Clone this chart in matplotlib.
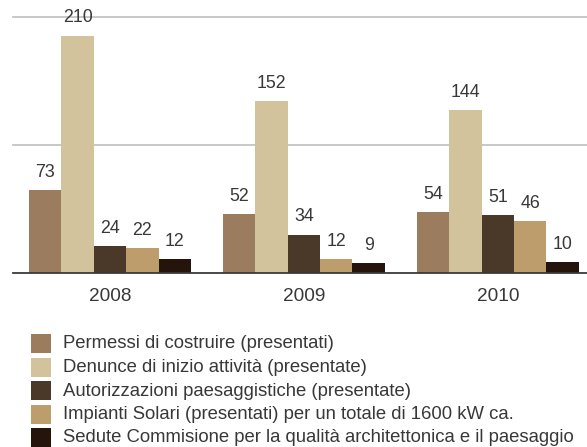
import matplotlib
matplotlib.use("Agg")
import matplotlib.pyplot as plt
from matplotlib.patches import Rectangle
import numpy as np

plt.rcParams['font.family'] = ['Liberation Sans', 'DejaVu Sans']

years = ["2008", "2009", "2010"]
series = [
    "Permessi di costruire (presentati)",
    "Denunce di inizio attività (presentate)",
    "Autorizzazioni paesaggistiche (presentate)",
    "Impianti Solari (presentati) per un totale di 1600 kW ca.",
    "Sedute Commisione per la qualità architettonica e il paesaggio",
]
permessi    = [73, 52, 54]
denunce     = [210, 152, 144]
autorizz    = [24, 34, 51]
solari      = [22, 12, 46]
sedute      = [12, 9, 10]
values = [permessi, denunce, autorizz, solari, sedute]
colors = ["#9c7c5e", "#d2c39d", "#4a3828", "#bc9d6b", "#24140c"]

W, H = 587, 447
fig = plt.figure(figsize=(W / 100, H / 100), dpi=100)

# axes placed in pixels: left 13, baseline 273, top gridline 17
ax = fig.add_axes([13 / W, (H - 273) / H, (W - 13) / W, (273 - 17) / H])
ymax = 226.5
ax.set_ylim(0, ymax)
ax.set_xlim(-0.5, 2.46)

bw = 0.167
x = np.arange(len(years))
for i, (vals, col) in enumerate(zip(values, colors)):
    pos = x + (i - 2) * bw
    ax.bar(pos, vals, width=bw, color=col, linewidth=0, zorder=3)
    for px, v in zip(pos, vals):
        ax.annotate(str(v), (px, v), xytext=(0, 9.5), textcoords="offset points",
                    ha="center", va="baseline", fontsize=12.8, color="#383838",
                    annotation_clip=False)

for g in (ymax / 2, ymax):
    ax.axhline(g, color="#c4c4c4", linewidth=1.3, zorder=1, clip_on=False)
ax.axhline(0, color="#3a3a3a", linewidth=1.3, zorder=4, clip_on=False)

for s in ax.spines.values():
    s.set_visible(False)
ax.set_yticks([])
ax.set_xticks(x)
ax.set_xticklabels(years, fontsize=13.7, color="#383838")
ax.tick_params(axis="x", length=0, pad=11)

# legend, drawn in pixel positions
tops = [334, 357.5, 381, 404.5, 428]
for lab, col, t in zip(series, colors, tops):
    fig.patches.append(Rectangle((31 / W, (H - t - 19) / H), 20 / W, 19 / H,
                                 transform=fig.transFigure, color=col, linewidth=0))
    fig.text(63 / W, (H - t - 10) / H, lab, fontsize=13.3, color="#383838",
             va="center", ha="left")

fig.savefig("out.png", dpi=100)
